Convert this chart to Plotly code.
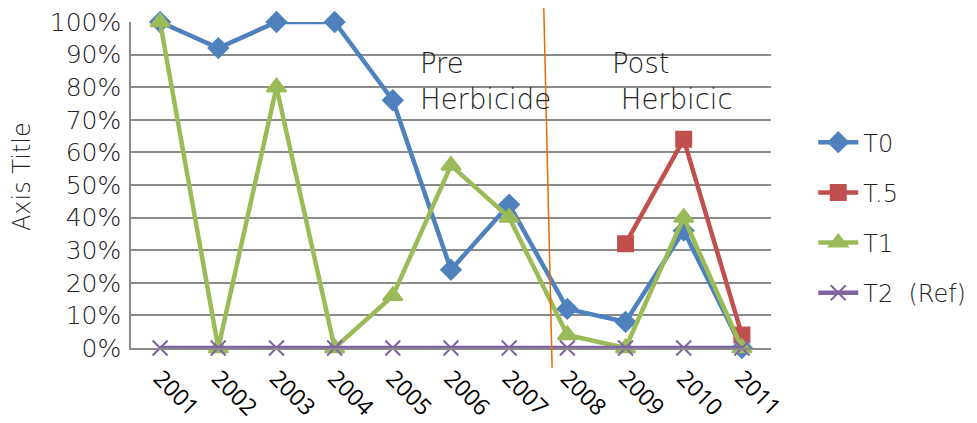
import plotly.graph_objects as go

years = ["2001", "2002", "2003", "2004", "2005", "2006", "2007", "2008", "2009", "2010", "2011"]
t0 = [1.00, 0.92, 1.00, 1.00, 0.76, 0.24, 0.44, 0.12, 0.08, 0.36, 0.00]
t05 = [None, None, None, None, None, None, None, None, 0.32, 0.64, 0.04]
t1 = [1.00, 0.00, 0.80, 0.00, 0.16, 0.56, 0.40, 0.04, 0.00, 0.40, 0.00]
t2 = [0.0] * 11

series = [
    ("T0", t0, "#4F81BD", "diamond", 15),
    ("T.5", t05, "#C0504D", "square", 15),
    ("T1", t1, "#9BBB59", "triangle-up", 17),
    ("T2  (Ref)", t2, "#8064A2", "x-thin", 15),
]

FONT = "DejaVu Sans"
W = 200
fig = go.Figure()
for i, (name, vals, col, sym, sz) in enumerate(series):
    fig.add_trace(go.Scatter(
        x=years, y=vals, name=name, mode="lines+markers",
        line=dict(color=col, width=4.5),
        marker=dict(symbol=sym, size=sz, color=col,
                    line=dict(color=col, width=2)),
        cliponaxis=False, legendgroup=str(i),
    ))

fig.update_layout(
    width=977, height=423,
    margin=dict(l=123, r=214, t=14, b=83),
    paper_bgcolor="white", plot_bgcolor="white",
    font=dict(family=FONT, size=22, color="#222", weight=W),
    showlegend=True,
    legend=dict(x=1.066, y=0.40, xanchor="left", yanchor="middle",
                font=dict(family=FONT, size=24, color="#222", weight=W),
                tracegroupgap=16, itemwidth=40),
    xaxis=dict(type="category", tickangle=45, showgrid=False,
               showline=True, linecolor="#8a8a8a", linewidth=1.5,
               ticks="", automargin=False, ticklabelstandoff=6,
               tickfont=dict(family="Open Sans", size=23, color="#000", weight=400),
               range=[-0.5, 10.5]),
    yaxis=dict(range=[0, 1], dtick=0.1, tickformat=".0%",
               showgrid=True, gridcolor="#8a8a8a", gridwidth=1.5,
               showline=True, linecolor="#8a8a8a", linewidth=1.5,
               zeroline=False, ticks="", automargin=False, ticklabelstandoff=3,
               ticklabeloverflow="allow",
               tickfont=dict(family=FONT, size=25, color="#222", weight=W)),
)

fig.add_annotation(xref="paper", yref="paper", x=-0.170, y=0.525,
                   xanchor="center", yanchor="middle", textangle=-90, showarrow=False,
                   text="Axis Title", font=dict(family=FONT, size=24, color="#222", weight=W))

fig.add_shape(type="line", xref="paper", yref="paper",
              x0=0.645, y0=1.043, x1=0.658, y1=-0.061,
              line=dict(color="#E46C0A", width=1.5))

fig.add_annotation(xref="paper", yref="paper", x=0.449, y=0.93,
                   xanchor="left", yanchor="top", align="left", showarrow=False,
                   text="Pre<br>Herbicide", font=dict(family=FONT, size=27.5, color="#222", weight=W))
fig.add_annotation(xref="paper", yref="paper", x=0.749, y=0.93,
                   xanchor="left", yanchor="top", align="left", showarrow=False,
                   text="Post<br> Herbicic", font=dict(family=FONT, size=27.5, color="#222", weight=W))

fig.write_html("out.html")
